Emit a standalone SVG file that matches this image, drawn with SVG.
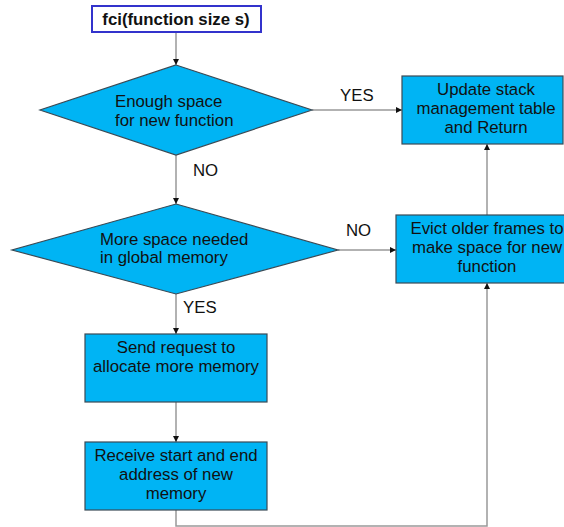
<svg xmlns="http://www.w3.org/2000/svg" width="564" height="527" viewBox="0 0 564 527">
  <style>
    .shape { fill: #00b4f4; stroke: #3a4a55; stroke-width: 1.2; }
    .txt { font-family: "Liberation Sans", Arial, sans-serif; font-size: 16.8px; fill: #111; }
    .mid { text-anchor: middle; }
    .wire { fill: none; stroke: #999; stroke-width: 1.5; }
  </style>
  <defs>
    <marker id="arrow" viewBox="0 0 8 8" refX="8" refY="4" markerWidth="6" markerHeight="6" orient="auto" markerUnits="userSpaceOnUse">
      <path d="M0,0 L8,4 L0,8 z" fill="#111"/>
    </marker>
  </defs>
  <rect width="564" height="527" fill="#fff"/>

  <g id="connectors">
    <line class="wire" x1="176" y1="32" x2="176" y2="65" marker-end="url(#arrow)"/>
    <line class="wire" x1="312" y1="110" x2="402" y2="110" marker-end="url(#arrow)"/>
    <line class="wire" x1="176" y1="155" x2="176" y2="204" marker-end="url(#arrow)"/>
    <line class="wire" x1="338" y1="250" x2="396" y2="250" marker-end="url(#arrow)"/>
    <line class="wire" x1="176" y1="294" x2="176" y2="334" marker-end="url(#arrow)"/>
    <line class="wire" x1="176" y1="402" x2="176" y2="442" marker-end="url(#arrow)"/>
    <line class="wire" x1="487" y1="215" x2="487" y2="144" marker-end="url(#arrow)"/>
    <polyline class="wire" points="176,510 176,526 487,526 487,283" marker-end="url(#arrow)"/>
    <text class="txt" x="340" y="101">YES</text>
    <text class="txt" x="193" y="176">NO</text>
    <text class="txt" x="346" y="236">NO</text>
    <text class="txt" x="183" y="313">YES</text>
  </g>

  <g id="start">
    <rect x="92" y="6" width="169" height="26" fill="#fff" stroke="#3333cc" stroke-width="2"/>
    <text class="txt mid" x="176" y="25" font-weight="bold">fci(function size s)</text>
  </g>

  <g id="enough-space">
    <polygon class="shape" points="176,65 312,110 176,155 40,110"/>
    <text class="txt" x="115" y="107">Enough space</text>
    <text class="txt" x="115" y="126">for new function</text>
  </g>

  <g id="need-global">
    <polygon class="shape" points="176,204 338,250 176,294 12,250"/>
    <text class="txt" x="100" y="245">More space needed</text>
    <text class="txt" x="100" y="263">in global memory</text>
  </g>

  <g id="update-table">
    <rect class="shape" x="402" y="76" width="161" height="68"/>
    <text class="txt mid" x="486" y="95">Update stack</text>
    <text class="txt mid" x="486" y="114">management table</text>
    <text class="txt mid" x="486" y="133">and Return</text>
  </g>

  <g id="evict-frames">
    <rect class="shape" x="396" y="215" width="170" height="68"/>
    <text class="txt mid" x="487" y="234">Evict older frames to</text>
    <text class="txt mid" x="487" y="253">make space for new</text>
    <text class="txt mid" x="487" y="272">function</text>
  </g>

  <g id="send-request">
    <rect class="shape" x="85" y="334" width="182" height="68"/>
    <text class="txt mid" x="176" y="353">Send request to</text>
    <text class="txt mid" x="176" y="372">allocate more memory</text>
  </g>

  <g id="receive-address">
    <rect class="shape" x="85" y="442" width="182" height="68"/>
    <text class="txt mid" x="176" y="461">Receive start and end</text>
    <text class="txt mid" x="176" y="480">address of new</text>
    <text class="txt mid" x="176" y="499">memory</text>
  </g>
</svg>
